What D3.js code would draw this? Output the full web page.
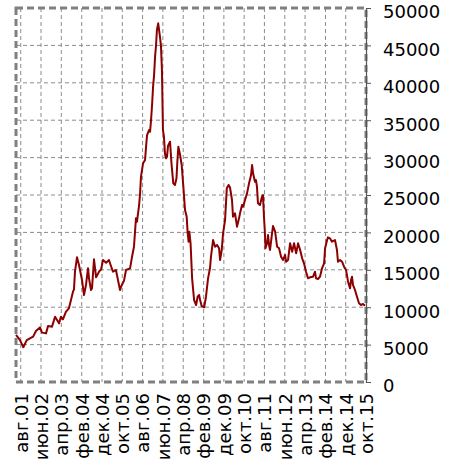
<!DOCTYPE html>
<html>
<head>
<meta charset="utf-8">
<script src="https://cdn.jsdelivr.net/npm/d3@7"></script>
<style>
  body { margin: 0; background: #fff; }
  svg { display: block; font-family: "DejaVu Sans", sans-serif; }
  .grid line { stroke: #8c8c8c; stroke-width: 1; stroke-dasharray: 4,3; }
  .border { fill: none; stroke: #808080; stroke-width: 3; stroke-dasharray: 7,4; }
  .line { fill: none; stroke: #8b0000; stroke-width: 2; stroke-linejoin: round; }
  .axis text { font-family: "DejaVu Sans", sans-serif; font-size: 18px; fill: #000; }
</style>
</head>
<body>
<svg id="chart"></svg>
<script>
// values
var dates = ["2001-05-22","2001-07-21","2001-09-09","2001-10-30","2002-02-03","2002-03-17","2002-05-16","2002-06-16",
  "2002-08-15","2002-09-14","2002-11-13","2002-12-28","2003-01-27","2003-02-26","2003-03-26","2003-04-25",
  "2003-06-10","2003-07-24","2003-08-24","2003-09-23","2003-10-08","2003-10-23","2003-11-22","2003-12-22",
  "2004-01-21","2004-02-05","2004-03-06","2004-04-05","2004-05-05","2004-05-20","2004-06-19","2004-07-04",
  "2004-08-03","2004-09-03","2004-10-17","2004-11-17","2004-12-16","2005-02-01","2005-03-15","2005-04-14",
  "2005-05-14","2005-06-28","2005-07-28","2005-08-28","2005-09-12","2005-10-27","2005-11-26","2006-01-25",
  "2006-02-24","2006-03-25","2006-04-24","2006-05-09","2006-06-08","2006-06-23","2006-07-08","2006-08-08",
  "2006-09-07","2006-09-22","2006-10-07","2006-11-06","2006-11-21","2006-12-06","2006-12-21","2007-01-05",
  "2007-01-20","2007-02-04","2007-02-19","2007-03-04","2007-03-23","2007-04-18","2007-05-03","2007-05-18",
  "2007-05-28","2007-06-02","2007-06-17","2007-07-02","2007-07-17","2007-08-02","2007-08-17","2007-09-16",
  "2007-10-08","2007-11-04","2007-11-29","2007-12-22","2008-01-04","2008-01-19","2008-02-14","2008-03-09",
  "2008-04-03","2008-04-28","2008-05-23","2008-06-05","2008-06-20","2008-07-02","2008-07-20","2008-08-12",
  "2008-09-11","2008-10-11","2008-11-03","2008-11-25","2008-12-10","2009-01-02","2009-02-09","2009-03-08",
  "2009-04-08","2009-05-07","2009-05-22","2009-06-22","2009-07-22","2009-08-21","2009-09-20","2009-10-05",
  "2009-10-30","2009-11-19","2009-12-19","2010-01-14","2010-02-10","2010-03-03","2010-04-02","2010-04-17",
  "2010-05-17","2010-06-16","2010-07-16","2010-07-31","2010-08-30","2010-09-14","2010-10-14","2010-11-13",
  "2010-12-13","2011-01-13","2011-01-28","2011-02-12","2011-03-12","2011-03-27","2011-04-11","2011-04-26",
  "2011-05-26","2011-06-25","2011-07-10","2011-07-25","2011-08-06","2011-08-17","2011-09-09","2011-09-24",
  "2011-10-09","2011-10-24","2011-11-23","2011-12-08","2012-01-08","2012-02-07","2012-03-07","2012-04-06",
  "2012-05-06","2012-06-05","2012-06-20","2012-07-20","2012-08-19","2012-09-19","2012-10-18","2012-11-18",
  "2012-12-17","2013-01-17","2013-02-16","2013-03-16","2013-04-15","2013-05-15","2013-06-14","2013-07-29",
  "2013-08-28","2013-09-12","2013-10-12","2013-11-11","2013-12-11","2014-01-11","2014-01-26","2014-02-25",
  "2014-03-10","2014-04-09","2014-05-09","2014-06-23","2014-07-23","2014-08-07","2014-09-07","2014-10-07",
  "2014-11-06","2014-12-06","2015-01-05","2015-02-04","2015-02-19","2015-03-05","2015-03-20","2015-04-19",
  "2015-05-19","2015-06-18","2015-07-18","2015-08-17","2015-09-16"];

var prices = [6300,5600,4650,5600,6060,6820,7300,6600,
  6500,7490,7400,8730,8290,7840,8730,8380,
  9400,9850,10960,12070,12390,14750,16670,15640,
  14300,13640,11630,12970,15200,13860,12300,12520,
  16400,13990,14750,15060,16310,15950,16310,15510,
  14750,14970,13640,12300,12740,13550,14970,15200,
  16750,18090,21900,21430,23500,25000,27450,29230,
  29680,31460,33020,33690,33460,35030,37030,39480,
  41000,43490,45050,47060,47950,46170,45000,41710,
  36360,33690,32800,30580,29900,30130,31550,32130,
  29230,26560,26340,27230,29450,31460,30350,29010,
  26110,23000,22100,20100,18760,20100,18540,13860,
  10960,10290,11400,11630,10960,10160,9990,11400,
  13860,15200,16750,18980,18090,18320,17870,16310,
  17650,19880,21660,25890,26340,26000,24330,22100,
  22550,20760,21880,22550,23660,23440,24330,25220,
  26560,27670,29010,27900,26780,27000,26110,23890,
  23660,24770,25000,22100,20320,17870,18540,19650,
  18320,17650,19880,20860,20100,18090,17870,16750,
  16310,16980,16080,16310,18540,17420,18540,17200,
  18540,17650,16530,15870,14750,13860,14000,14080,
  14750,13860,13770,14080,15200,15870,17870,18980,
  19340,19210,18760,18980,17650,16080,16310,16080,
  15410,14970,13410,12520,13640,14080,12970,12300,
  11400,10520,10290,10430,10200];

var tickDates = ["2001-08-01","2002-06-01","2003-04-01","2004-02-01","2004-12-01","2005-10-01",
  "2006-08-01","2007-06-01","2008-04-01","2009-02-01","2009-12-01","2010-10-01",
  "2011-08-01","2012-06-01","2013-04-01","2014-02-01","2014-12-01","2015-10-01"];
var tickLabels = ["авг.01","июн.02","апр.03","фев.04","дек.04","окт.05",
  "авг.06","июн.07","апр.08","фев.09","дек.09","окт.10",
  "авг.11","июн.12","апр.13","фев.14","дек.14","окт.15"];
var yTicks = [0,5000,10000,15000,20000,25000,30000,35000,40000,45000,50000];

var W = 460, H = 461,
  margin = {top: 8, left: 16, right: 94, bottom: 79},
  width = W - margin.left - margin.right,
  height = H - margin.top - margin.bottom;

var parse = d3.timeParse("%Y-%m-%d");
var data = dates.map(function(d, i) { return {date: parse(d), value: prices[i]}; });
var ticks = tickDates.map(parse);

var svg = d3.select("#chart").attr("width", W).attr("height", H);
var g = svg.append("g").attr("transform", "translate(" + margin.left + "," + margin.top + ")");

var x = d3.scaleTime().domain([data[0].date, ticks[ticks.length - 1]]).range([0, width]),
  y = d3.scaleLinear().domain([0, 50000]).range([height, 0]);

// gridlines
g.append("g").attr("class", "grid")
  .selectAll("line").data(yTicks.slice(1, -1)).enter().append("line")
    .attr("x1", 0).attr("x2", width)
    .attr("y1", function(d) { return y(d); }).attr("y2", function(d) { return y(d); });
g.append("g").attr("class", "grid")
  .selectAll("line").data(ticks.slice(0, -1)).enter().append("line")
    .attr("y1", 0).attr("y2", height)
    .attr("x1", function(d) { return x(d); }).attr("x2", function(d) { return x(d); });

// dashed frame
g.append("rect").attr("class", "border")
  .attr("x", 0).attr("y", 0).attr("width", width).attr("height", height);

// line
var line = d3.line()
  .x(function(d) { return x(d.date); })
  .y(function(d) { return y(d.value); });
g.append("path").datum(data).attr("class", "line").attr("d", line);

// x axis
var xAxis = d3.axisBottom(x).tickValues(ticks).tickSize(0)
  .tickFormat(function(d, i) { return tickLabels[i]; });
var xg = g.append("g").attr("class", "axis")
  .attr("transform", "translate(0," + height + ")")
  .call(xAxis);
xg.select(".domain").remove();
xg.selectAll("text")
  .attr("transform", "rotate(-90)")
  .attr("text-anchor", "end")
  .attr("x", -11).attr("y", 0).attr("dy", "0.35em");

// y axis on the right
var yAxis = d3.axisRight(y).tickValues(yTicks).tickSize(5).tickPadding(12)
  .tickFormat(d3.format("d"));
var yg = g.append("g").attr("class", "axis")
  .attr("transform", "translate(" + width + ",0)")
  .call(yAxis);
yg.select(".domain").attr("stroke", "#555").attr("stroke-width", 1.2);
yg.selectAll(".tick line").attr("stroke", "#555");
yg.selectAll("text").attr("dy", "0.55em");
</script>
</body>
</html>
